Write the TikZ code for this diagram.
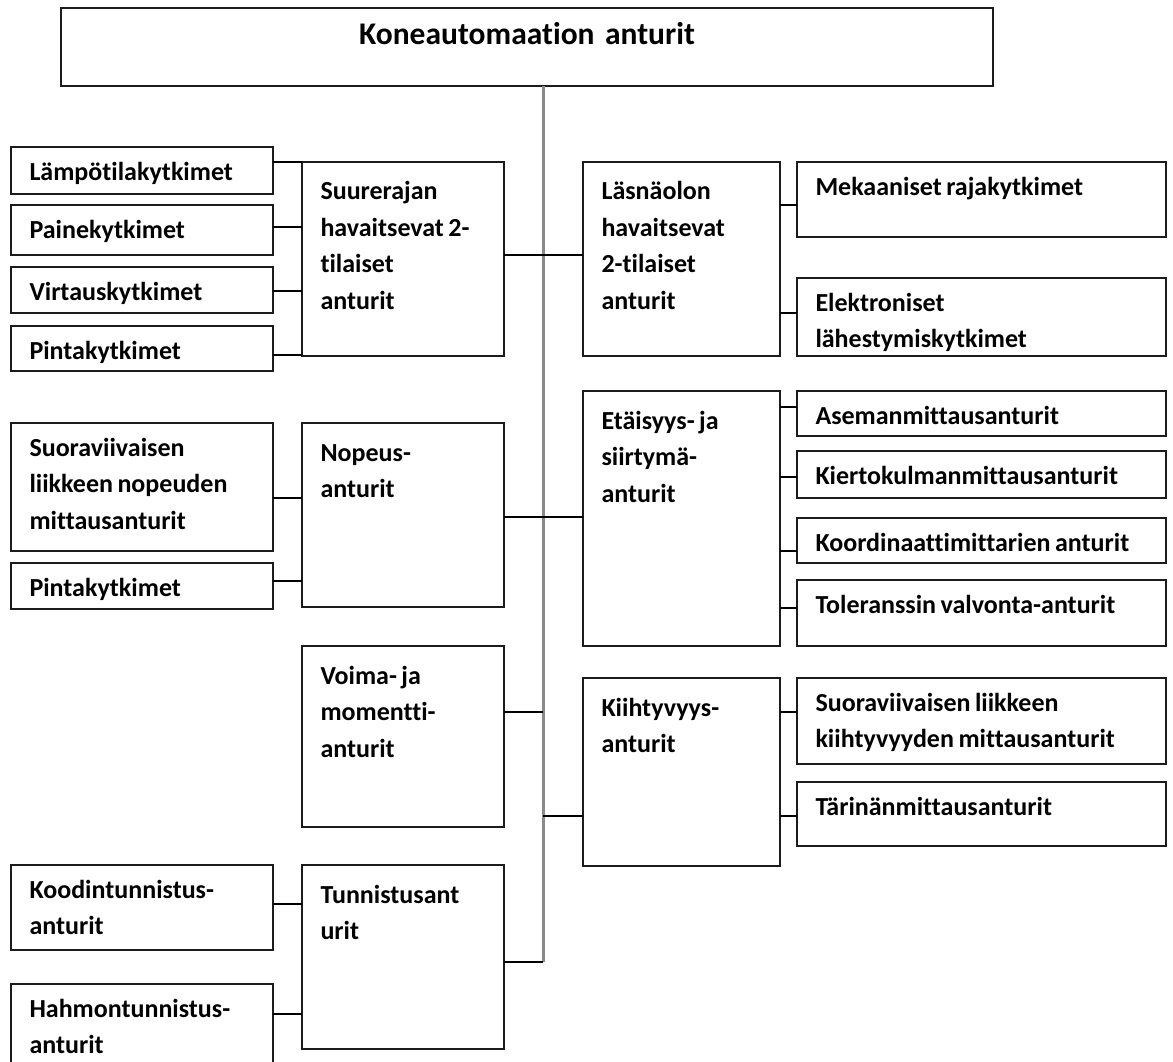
\documentclass[tikz,border=0pt]{standalone}
\usepackage{fontspec}
\setmainfont{Carlito}[Ligatures=NoCommon]
\usepackage{tikz}
\usetikzlibrary{calc}
\definecolor{boxline}{RGB}{28,28,28}
\definecolor{trunkgrey}{RGB}{138,138,138}
\newcommand{\bodyfont}{\fontsize{26}{36.5}\selectfont\bfseries}
\newcommand{\titlefont}{\fontsize{31.5}{36}\selectfont\bfseries}
\newcommand{\wsp}{\nobreak\hspace{4.5pt}\nobreak}
\tikzset{
  sensorbox/.style={draw=boxline,line width=2pt,anchor=north west,outer sep=0pt,
    inner xsep=18.5pt,inner ysep=0pt,align=left,font=\bodyfont},
  leafbox/.style 2 args={sensorbox,text width=#1-37pt,text height=33pt,
    text depth=#2-33pt},
  groupbox/.style 2 args={sensorbox,text width=#1-37pt,text height=38pt,
    text depth=#2-38pt},
  link/.style={draw=black,line width=2pt},
  trunk/.style={draw=trunkgrey,line width=3pt}
}
\begin{document}
\begin{tikzpicture}[x=1pt,y=-1pt]
  \useasboundingbox[fill=white] (0,0) rectangle (1173,1062);
  \clip (0,0) rectangle (1173,1062);
  % main box
  \node[sensorbox,align=center,text width=895pt,text height=37pt,text depth=41pt,
    font=\titlefont] (main) at (61,8) {Koneautomaation anturit};
  % left side groups
  \node[groupbox={202}{194}] (suure) at (302,162)
    {Suurerajan\\havaitsevat\wsp 2-\\tilaiset\\anturit};
  \node[groupbox={202}{184}] (nopeus) at (302,423) {Nopeus-\\anturit};
  \node[groupbox={202}{181}] (voima) at (302,646)
    {Voima-\wsp ja\\momentti-\\anturit};
  \node[groupbox={202}{184}] (tunnis) at (302,865) {Tunnistusant\\urit};
  % right side groups
  \node[groupbox={197}{194}] (laesna) at (583,162)
    {Läsnäolon\\havaitsevat\\2-tilaiset\\anturit};
  \node[groupbox={197}{255}] (etais) at (583,391)
    {Etäisyys-\wsp ja\\siirtymä-\\anturit};
  \node[groupbox={197}{188}] (kiiht) at (583,678) {Kiihtyvyys-\\anturit};
  % left leaves
  \node[leafbox={262}{47}] (lampo) at (11,147) {Lämpötilakytkimet};
  \node[leafbox={262}{50}] (paine) at (11,205) {Painekytkimet};
  \node[leafbox={262}{46}] (virtaus) at (11,267) {Virtauskytkimet};
  \node[leafbox={262}{45}] (pinta) at (11,326) {Pintakytkimet};
  \node[leafbox={262}{128}] (svnop) at (11,423)
    {Suoraviivaisen\\liikkeen\wsp nopeuden\\mittausanturit};
  \node[leafbox={262}{46}] (pintab) at (11,563) {Pintakytkimet};
  \node[leafbox={262}{85}] (koodi) at (11,865) {Koodintunnistus-\\anturit};
  \node[leafbox={262}{100}] (hahmo) at (11,984) {Hahmontunnistus-\\anturit};
  % right leaves
  \node[leafbox={369}{75}] (meka) at (797,162) {Mekaaniset\wsp rajakytkimet};
  \node[leafbox={369}{78}] (elektro) at (797,278)
    {Elektroniset\\lähestymiskytkimet};
  \node[leafbox={369}{45}] (asema) at (797,391) {Asemanmittausanturit};
  \node[leafbox={369}{47}] (kierto) at (797,451) {Kiertokulmanmittausanturit};
  \node[leafbox={369}{45}] (koord) at (797,518)
    {Koordinaattimittarien\wsp anturit};
  \node[leafbox={369}{66}] (toler) at (797,580)
    {Toleranssin\wsp valvonta-anturit};
  \node[leafbox={369}{86}] (svkiiht) at (797,678)
    {Suoraviivaisen\wsp liikkeen\\kiihtyvyyden\wsp mittausanturit};
  \node[leafbox={369}{64}] (tarina) at (797,782) {Tärinänmittausanturit};
  % trunk
  \coordinate (trunktop) at (543,86);
  \coordinate (trunkend) at (543,962);
  \draw[trunk] (trunktop) -- (trunkend);
  % connectors
  \foreach \leaf/\yy in {lampo/162,paine/227,virtaus/291,pinta/355}
    \draw[link] (\leaf.east |- 0,\yy) -- (suure.west |- 0,\yy);
  \foreach \leaf/\yy in {svnop/498,pintab/581}
    \draw[link] (\leaf.east |- 0,\yy) -- (nopeus.west |- 0,\yy);
  \foreach \leaf/\yy in {koodi/904,hahmo/1014}
    \draw[link] (\leaf.east |- 0,\yy) -- (tunnis.west |- 0,\yy);
  \foreach \leaf/\yy in {meka/205,elektro/313}
    \draw[link] (laesna.east |- 0,\yy) -- (\leaf.west |- 0,\yy);
  \foreach \leaf/\yy in {asema/407,kierto/477,koord/551,toler/608}
    \draw[link] (etais.east |- 0,\yy) -- (\leaf.west |- 0,\yy);
  \foreach \leaf/\yy in {svkiiht/712,tarina/816}
    \draw[link] (kiiht.east |- 0,\yy) -- (\leaf.west |- 0,\yy);
  \draw[link] (suure.east |- 0,255) -- (laesna.west |- 0,255);
  \draw[link] (nopeus.east |- 0,517) -- (etais.west |- 0,517);
  \draw[link] (voima.east |- 0,712) -- (trunktop |- 0,712);
  \draw[link] (trunktop |- 0,816) -- (kiiht.west |- 0,816);
  \draw[link] (tunnis.east |- trunkend) -- (trunkend);
\end{tikzpicture}
\end{document}
